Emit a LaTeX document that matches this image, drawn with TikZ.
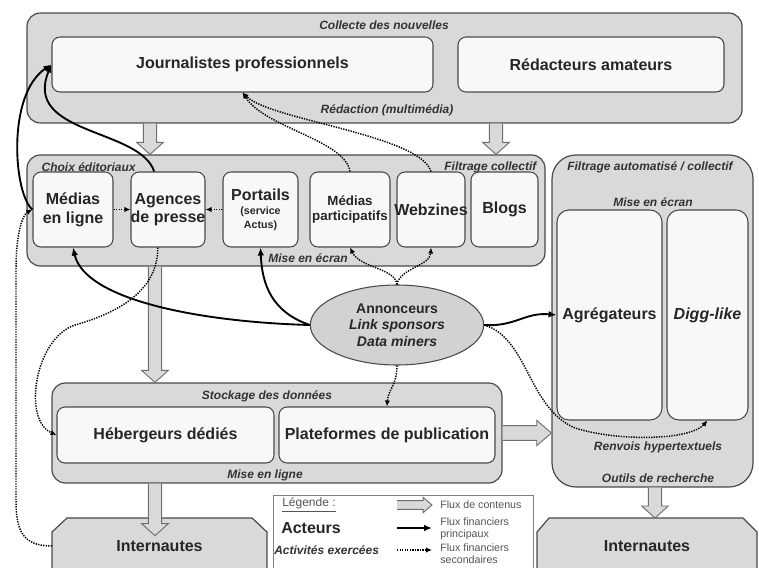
\documentclass[tikz,border=0pt]{standalone}
\usepackage{fontspec}
\setmainfont{Liberation Sans}
\usepackage{xcolor}
\usetikzlibrary{arrows.meta,positioning,fit,calc,shapes.geometric}
\definecolor{GroupGray}{HTML}{D9D9D9}
\definecolor{ActorWhite}{HTML}{F8F8F8}
\definecolor{EdgeGray}{HTML}{4A4A4A}
\definecolor{SponsorGray}{HTML}{D2D2D2}
\definecolor{LegendInk}{HTML}{555555}

% wide grey arrows (flux de contenus)
\newcommand{\flowdown}[2]{%
  \draw[flow] let \p1=(#1), \p2=(#2) in
    (\x1-5pt,\y1) -- (\x1-5pt,\y2+9pt) -- (\x1-10pt,\y2+9pt) -- (\x1,\y2)
    -- (\x1+10pt,\y2+9pt) -- (\x1+5pt,\y2+9pt) -- (\x1+5pt,\y1);}
\newcommand{\flowright}[3][1]{%
  \draw[flow] let \p1=(#2), \p2=(#3) in
    (\x1,\y1+#1*5.5pt) -- (\x2-#1*11pt,\y1+#1*5.5pt) -- (\x2-#1*11pt,\y1+#1*9.5pt) -- (\x2,\y1)
    -- (\x2-#1*11pt,\y1-#1*9.5pt) -- (\x2-#1*11pt,\y1-#1*5.5pt) -- (\x1,\y1-#1*5.5pt);}

\begin{document}
\begin{tikzpicture}[
  x=0.75pt, y=-0.75pt,
  group/.style={draw=EdgeGray, line width=0.9pt, fill=GroupGray, rounded corners=10pt, inner sep=0pt},
  actor/.style={draw=EdgeGray, line width=0.8pt, fill=ActorWhite, rounded corners=6pt, inner sep=0pt},
  big/.style={font=\bfseries\fontsize{12}{14}\selectfont, align=center, text=black!85},
  activity/.style={font=\bfseries\itshape\fontsize{9}{10}\selectfont, inner sep=1pt, text=black!80},
  crowd/.style={draw=EdgeGray, line width=0.9pt, fill=GroupGray},
  flow/.style={draw=EdgeGray!80, fill=GroupGray, line width=0.7pt},
  money/.style={-{Latex[length=6pt,width=5pt]}, line width=1.4pt},
  aside/.style={-{Latex[length=4.5pt,width=4pt]}, line width=1.1pt, dash pattern=on 1pt off 0.9pt},
  legend/.style={font=\fontsize{8}{9}\selectfont, text=LegendInk, align=left, anchor=west, inner sep=0pt}
]
  \useasboundingbox (0,0) rectangle (759,567);
  \clip (0,0) rectangle (759,567);

  % collecte
  \node[group, fit={(27,13) (742,123)}] (collecte) {};
  \node[activity] (collecteT) at (384,25) {Collecte des nouvelles};
  \node[actor, fit={(52,37) (433,92)}, label={[big]center:Journalistes professionnels}] (journal) {};
  \node[actor, fit={(458,37) (724,92)}, label={[big]center:Rédacteurs amateurs}] (amateurs) {};
  \node[activity] (redaction) at (387,110) {Rédaction (multimédia)};

  % choix editoriaux
  \node[group, fit={(27,155) (545,266)}] (choix) {};
  \node[activity, anchor=west] (choixT) at (40,167) {Choix éditoriaux};
  \node[activity, anchor=east] (filtrageT) at (538,167) {Filtrage collectif};
  \node[actor, fit={(33,172) (113,247)}, label={[big]center:Médias\\en ligne}] (medias) {};
  \node[actor, fit={(131,172) (205,247)}, label={[big]center:Agences\\de presse}] (agences) {};
  \node[actor, fit={(223,172) (298,247)},
    label={[big, font=\bfseries\fontsize{12}{10.5}\selectfont]center:Portails\\{\fontsize{8}{10.5}\selectfont(service}\\{\fontsize{8}{10.5}\selectfont Actus)}}] (portails) {};
  \node[actor, fit={(310,172) (390,247)},
    label={[big, font=\bfseries\fontsize{10}{11}\selectfont]center:Médias\\participatifs}] (mpart) {};
  \node[actor, fit={(397,172) (465,247)}, label={[big]center:Webzines}] (webzines) {};
  \node[actor, fit={(471,172) (538,247)}, label={[big]center:Blogs}] (blogs) {};
  \node[activity] (ecranA) at (308,258) {Mise en écran};

  % filtrage automatise
  \node[group, rounded corners=18pt, fit={(552,155) (753,487)}] (filtre) {};
  \node[activity] (filtreT) at (650,167) {Filtrage automatisé / collectif};
  \node[activity] (ecranB) at (653,202) {Mise en écran};
  \node[actor, rounded corners=9pt, fit={(557,210) (662,420)}, label={[big]center:Agrégateurs}] (agreg) {};
  \node[actor, rounded corners=9pt, fit={(667,210) (748,420)}, label={[big]center:\itshape Digg-like}] (digg) {};
  \node[activity] (renvois) at (658,447) {Renvois hypertextuels};
  \node[activity] (outils) at (658,478) {Outils de recherche};

  % stockage
  \node[group, fit={(52,383) (502,483)}] (stockage) {};
  \node[activity] (stockageT) at (267,396) {Stockage des données};
  \node[actor, fit={(57,407) (274,463)}, label={[big]center:Hébergeurs dédiés}] (heberg) {};
  \node[actor, fit={(279,407) (495,463)}, label={[big]center:Plateformes de publication}] (plateformes) {};
  \node[activity] (enligne) at (265,475) {Mise en ligne};

  \node[ellipse, draw=EdgeGray, fill=SponsorGray, line width=0.8pt, minimum width=130pt,
    minimum height=60pt, inner sep=0pt, align=center, text=black!85,
    font=\bfseries\fontsize{10.5}{12.5}\selectfont] (annonceurs) at (397,325)
    {Annonceurs\\\textit{Link sponsors}\\\textit{Data miners}};

  % internautes
  \draw[crowd] (67,518) -- (252,518) -- (267,532) -- (267,580) -- (52,580) -- (52,532) -- cycle;
  \node[big] (internautesL) at (159.5,546) {Internautes};
  \coordinate (internautesEdge) at (52,546);
  \draw[crowd] (549,518) -- (743,518) -- (757,532) -- (757,580) -- (537,580) -- (537,532) -- cycle;
  \node[big] (internautesR) at (647,546) {Internautes};

  % flux de contenus
  \coordinate (colA) at (150,0);
  \coordinate (colB) at (496,0);
  \coordinate (colC) at (155,0);
  \coordinate (colE) at (655,0);
  \flowdown{colA |- collecte.south}{colA |- choix.north}
  \flowdown{colB |- collecte.south}{colB |- choix.north}
  \flowdown{colC |- choix.south}{colC |- stockage.north}
  \flowdown{colC |- stockage.south}{colC |- internautesL.north}
  \coordinate (crowdTop) at (0,518);
  \flowdown{colE |- filtre.south}{colE |- crowdTop}
  \flowright{stockage.east}{filtre.west |- stockage.east}

  % flux financiers principaux
  \draw[money] (medias.west) .. controls (14,195) and (6,95) .. (journal.west);
  \draw[money] (agences.110) .. controls (140,128) and (22,135) .. (journal.west);
  \draw[money] (annonceurs.west) .. controls (200,322) and (85,300) .. (medias.south);
  \draw[money] (annonceurs.west) .. controls (272,312) and (262,285) .. (portails.south);
  \draw[money] (annonceurs.east) .. controls (515,327) and (525,312) .. (agreg.west);

  % flux financiers secondaires
  \draw[aside] (mpart.north) .. controls (345,140) and (265,128) .. (journal.south);
  \draw[aside] (webzines.north) .. controls (420,135) and (270,120) .. (journal.south);
  \draw[aside] (medias.east) -- (agences.west);
  \draw[aside] (portails.west) -- (agences.east);
  \draw[aside] (annonceurs.north) .. controls (395,268) and (360,268) .. (mpart.south);
  \draw[aside] (annonceurs.north) .. controls (400,268) and (430,266) .. (webzines.south);
  \draw[aside] (internautesEdge) .. controls (22,546) and (16,530) .. (16,500) -- (16,270)
    .. controls (16,235) and (22,215) .. (medias.west);
  \draw[aside] (agences.-105) .. controls (158,295) and (110,315) .. (75,325)
    .. controls (35,338) and (22,420) .. (heberg.west);
  \draw[aside] (annonceurs.south) .. controls (397,385) and (388,390) .. (plateformes.north);
  \draw[aside] (annonceurs.east) .. controls (528,338) and (528,408) .. (575,428)
    .. controls (620,442) and (690,440) .. (digg.south);

  % legende
  \node[draw=EdgeGray!70, fill=white, line width=0.6pt, inner sep=0pt, fit={(273,495) (533,580)}] (legende) {};
  \node[anchor=west, inner sep=0pt, font=\fontsize{9}{10}\selectfont, text=LegendInk] (legendeT) at (282,505) {\underline{Légende :}};
  \node[anchor=west, inner sep=0pt, font=\bfseries\fontsize{12}{14}\selectfont, text=black!85] (acteursT) at (281,528) {Acteurs};
  \node[activity, anchor=west, inner sep=0pt] (activitesT) at (274,550) {Activités exercées};
  \coordinate (lgA1) at (397,505);
  \coordinate (lgA2) at (432,505);
  \flowright[0.6]{lgA1}{lgA2}
  \coordinate (lgB1) at (397,528);
  \coordinate (lgB2) at (432,528);
  \draw[money] (lgB1) -- (lgB2);
  \coordinate (lgC1) at (397,550);
  \coordinate (lgC2) at (432,550);
  \draw[aside] (lgC1) -- (lgC2);
  \node[legend] (fluxA) at (440,505) {Flux de contenus};
  \node[legend] (fluxB) at (440,529) {Flux financiers\\principaux};
  \node[legend] (fluxC) at (440,554) {Flux financiers\\secondaires};
\end{tikzpicture}
\end{document}
